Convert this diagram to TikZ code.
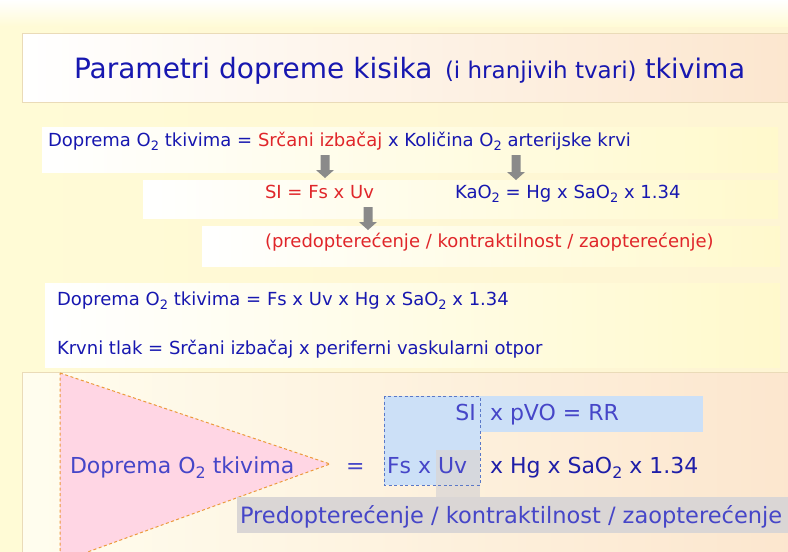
\documentclass[tikz,border=0pt]{standalone}
\usepackage{fontspec}
\setmainfont{DejaVu Sans}
\definecolor{tblue}{HTML}{1717B0}
\definecolor{tred}{HTML}{E0262A}
\definecolor{bblue}{HTML}{4646C8}
\definecolor{dblue}{HTML}{1E1EA8}
\definecolor{pinkf}{HTML}{FFD6E4}
\definecolor{dashor}{HTML}{EC9A3C}
\definecolor{lblue}{HTML}{CCE0F7}
\definecolor{dashblue}{HTML}{5A78C8}
\definecolor{bandgray}{HTML}{DAD6D5}
\definecolor{agray}{HTML}{8A8A8A}
\definecolor{bgy}{HTML}{FFFBD6}
\definecolor{bgp}{HTML}{FCE6CE}
\definecolor{tanline}{HTML}{EADBB8}
\definecolor{rowy}{HTML}{FFF9CC}
\newcommand{\lo}[1]{\raisebox{-0.45ex}{\scalebox{0.72}{#1}}}
\newcommand{\grayarrow}[3]{\fill[agray] (#1-4.5,#2) -- (#1+4.5,#2) -- (#1+4.5,#3-8) -- (#1+9,#3-8) -- (#1,#3) -- (#1-9,#3-8) -- (#1-4.5,#3-8) -- cycle;}
\begin{document}
\begin{tikzpicture}[x=1pt,y=-1pt,
  txt/.style={anchor=base west, inner sep=0pt, outer sep=0pt},
  rowfont/.style={font=\fontsize{18}{21}\selectfont},
  bigfont/.style={font=\fontsize{22}{26}\selectfont}]
\useasboundingbox (0,0) rectangle (788,552);
\begin{scope}
\clip (0,0) rectangle (788,552);
% background
\shade[left color=bgy, right color=bgy!70!bgp] (0,0) rectangle (788,552);
\shade[top color=white, bottom color=bgy] (0,0) rectangle (788,26);
% title box
\shadedraw[draw=tanline, line width=1pt, left color=white, middle color=white, right color=bgp] (22,33) rectangle (800,102);
% row boxes
\shade[left color=white, right color=rowy] (42,127) rectangle (778,172);
\shade[left color=white, right color=rowy] (143,180) rectangle (778,218);
\shade[left color=white, right color=rowy] (202,226) rectangle (780,266);
\shade[left color=white, right color=rowy] (45,283) rectangle (780,367);
% bottom box
\shadedraw[draw=tanline, line width=1pt, left color=white!60!bgy, right color=bgp] (22,372) rectangle (800,560);
% triangle
\filldraw[fill=pinkf, draw=dashor, dash pattern=on 3pt off 2.5pt, line width=1pt] (60,373) -- (330,464) -- (60,562) -- cycle;
% blue areas
\fill[lblue] (384,396) rectangle (480,485);
\fill[lblue] (480,396) rectangle (703,432);
\fill[bandgray, opacity=0.75] (436,450) rectangle (480,497);
\fill[bandgray] (237,497) rectangle (790,533);
\draw[dashblue, dash pattern=on 3pt off 2.5pt, line width=0.9pt] (384,396) rectangle (480,485);
% arrows
\grayarrow{325}{155}{178}
\grayarrow{516}{155}{180}
\grayarrow{368}{207}{230}
% title
\node[txt, text=tblue, font=\fontsize{28}{33}\selectfont] (t1) at (74,78) {Parametri dopreme kisika};
\node[txt, text=tblue, font=\fontsize{23}{27}\selectfont] (t2) at (445,78) {(i hranjivih tvari)};
\node[txt, text=tblue, font=\fontsize{27}{32}\selectfont] (t3) at (645,78) {tkivima};
% rows
\node[txt, rowfont, text=tblue] (r1) at (48,146) {Doprema O\lo{2} tkivima = \textcolor{tred}{Srčani izbačaj} x Količina O\lo{2} arterijske krvi};
\node[txt, rowfont, text=tred] (r2a) at (265,198) {SI = Fs x Uv};
\node[txt, rowfont, text=tblue] (r2b) at (455,198) {KaO\lo{2} = Hg x SaO\lo{2} x 1.34};
\node[txt, rowfont, text=tred] (r3) at (265,247) {(predopterećenje / kontraktilnost / zaopterećenje)};
\node[txt, rowfont, text=tblue] (r4) at (57,305) {Doprema O\lo{2} tkivima = Fs x Uv x Hg x SaO\lo{2} x 1.34};
\node[txt, rowfont, text=tblue] (r5) at (57,354) {Krvni tlak = Srčani izbačaj x periferni vaskularni otpor};
% bottom
\node[txt, bigfont, text=bblue] (b1) at (70,473) {Doprema O\lo{2} tkivima};
\node[txt, bigfont, text=bblue] (b2) at (346,473) {=};
\node[anchor=base east, inner sep=0pt, bigfont, text=bblue] (b3) at (476,420) {SI};
\node[txt, bigfont, text=bblue] (b4) at (490,420) {x pVO = RR};
\node[txt, bigfont, text=bblue] (b5) at (387,473) {Fs x Uv};
\node[txt, bigfont, text=dblue] (b6) at (490,473) {x Hg x SaO\lo{2} x 1.34};
\node[txt, font=\fontsize{22.5}{26}\selectfont, text=bblue] (b7) at (240,523) {Predopterećenje / kontraktilnost / zaopterećenje};
\end{scope}
\end{tikzpicture}
\end{document}
